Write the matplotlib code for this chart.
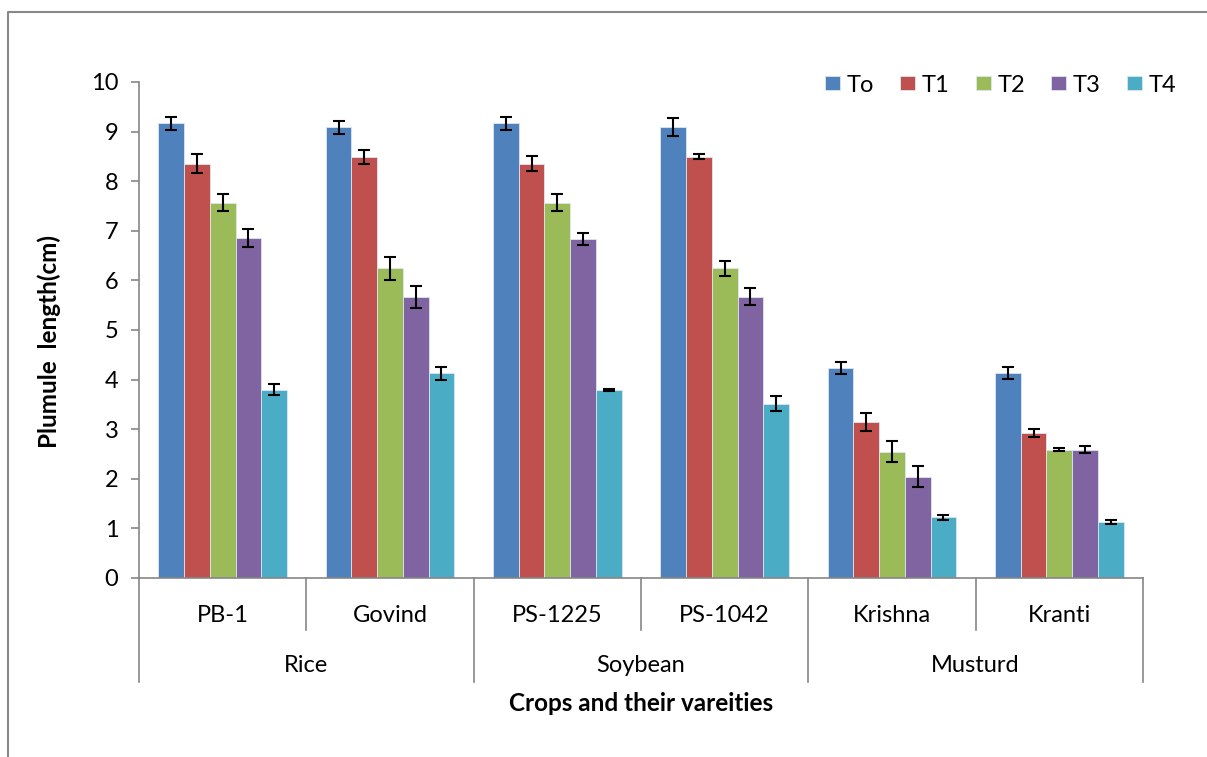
import matplotlib
matplotlib.use("Agg")
import matplotlib.pyplot as plt
from matplotlib.lines import Line2D
from matplotlib.transforms import blended_transform_factory
import numpy as np

plt.rcParams['font.family'] = ['Lato', 'DejaVu Sans']

varieties = ['PB-1', 'Govind', 'PS-1225', 'PS-1042', 'Krishna', 'Kranti']
crops = ['Rice', 'Soybean', 'Musturd']
treatments = ['To', 'T1', 'T2', 'T3', 'T4']
colors = ['#4F81BD', '#C0504D', '#9BBB59', '#8064A2', '#4BACC6']

# plumule length (cm) for each treatment, in variety order
to_vals = [9.17, 9.09, 9.17, 9.09, 4.23, 4.13]
t1_vals = [8.35, 8.49, 8.35, 8.49, 3.15, 2.92]
t2_vals = [7.57, 6.24, 7.57, 6.24, 2.55, 2.59]
t3_vals = [6.85, 5.67, 6.83, 5.67, 2.04, 2.59]
t4_vals = [3.80, 4.13, 3.80, 3.51, 1.22, 1.13]

to_err = [0.13, 0.13, 0.13, 0.18, 0.12, 0.12]
t1_err = [0.19, 0.14, 0.15, 0.05, 0.18, 0.08]
t2_err = [0.17, 0.23, 0.18, 0.16, 0.21, 0.03]
t3_err = [0.18, 0.22, 0.12, 0.17, 0.21, 0.07]
t4_err = [0.11, 0.13, 0.02, 0.15, 0.05, 0.04]

values = [to_vals, t1_vals, t2_vals, t3_vals, t4_vals]
errors = [to_err, t1_err, t2_err, t3_err, t4_err]

W, H = 1207, 757
fig = plt.figure(figsize=(W / 100, H / 100), dpi=100)
ax = fig.add_axes([139 / W, 1 - 578 / H, (1143 - 139) / W, (578 - 82) / H])

x = np.arange(len(varieties))
w = 1 / 6.5  # Excel-style gap width 150%
for i, (vals, errs) in enumerate(zip(values, errors)):
    ax.bar(x + (i - 2) * w, vals, w, color=colors[i], edgecolor='#dde6f0',
           linewidth=0.6, label=treatments[i], zorder=2)
    ax.errorbar(x + (i - 2) * w, vals, yerr=errs, fmt='none', ecolor='black',
                elinewidth=1.5, capsize=4.3, capthick=1.5, zorder=3)

ax.set_xlim(-0.5, len(varieties) - 0.5)
ax.set_ylim(0, 10)
ax.set_yticks(range(0, 11))
ax.tick_params(axis='y', labelsize=17, length=5.8, width=1.2, color='#868686', pad=9)
ax.set_xticks([])
for s in ['top', 'right']:
    ax.spines[s].set_visible(False)
for s in ['left', 'bottom']:
    ax.spines[s].set_color('#868686')
    ax.spines[s].set_linewidth(1.2)

# two-level category axis
trans = blended_transform_factory(ax.transData, ax.transAxes)
h_ax = 578 - 82
short = -(630 - 578) / h_ax
long_ = -(682 - 578) / h_ax
for k in range(len(varieties) + 1):
    edge = k - 0.5
    yend = long_ if k % 2 == 0 else short
    ax.plot([edge, edge], [0, yend], transform=trans, color='#868686',
            lw=1.2, clip_on=False)
for k, v in enumerate(varieties):
    ax.text(k, -(622 - 578) / h_ax, v, transform=trans, ha='center',
            va='baseline', fontsize=17)
for k, c in enumerate(crops):
    ax.text(2 * k + 0.5, -(672 - 578) / h_ax, c, transform=trans,
            ha='center', va='baseline', fontsize=17)

fig.text(0.5 * (139 + 1143) / W, 1 - 711 / H, 'Crops and their vareities',
         ha='center', va='baseline', fontsize=17.5, fontweight='bold')
fig.text(49 / W, 1 - 342 / H, 'Plumule  length(cm)', rotation=90,
         ha='center', va='center', fontsize=17.5, fontweight='bold')

ax.legend(loc='center right', bbox_to_anchor=(1176 / W, 1 - 85 / H),
          bbox_transform=fig.transFigure, ncol=5, frameon=False, fontsize=17,
          handlelength=0.64, handleheight=0.55, handletextpad=0.28,
          columnspacing=1.1, borderaxespad=0, borderpad=0)

# outer chart frame
fig.lines.append(Line2D([8 / W, 8 / W, 1], [0, 1 - 12 / H, 1 - 12 / H],
                        transform=fig.transFigure, color='#888888', lw=1.5))

fig.savefig('out.png', dpi=100)
